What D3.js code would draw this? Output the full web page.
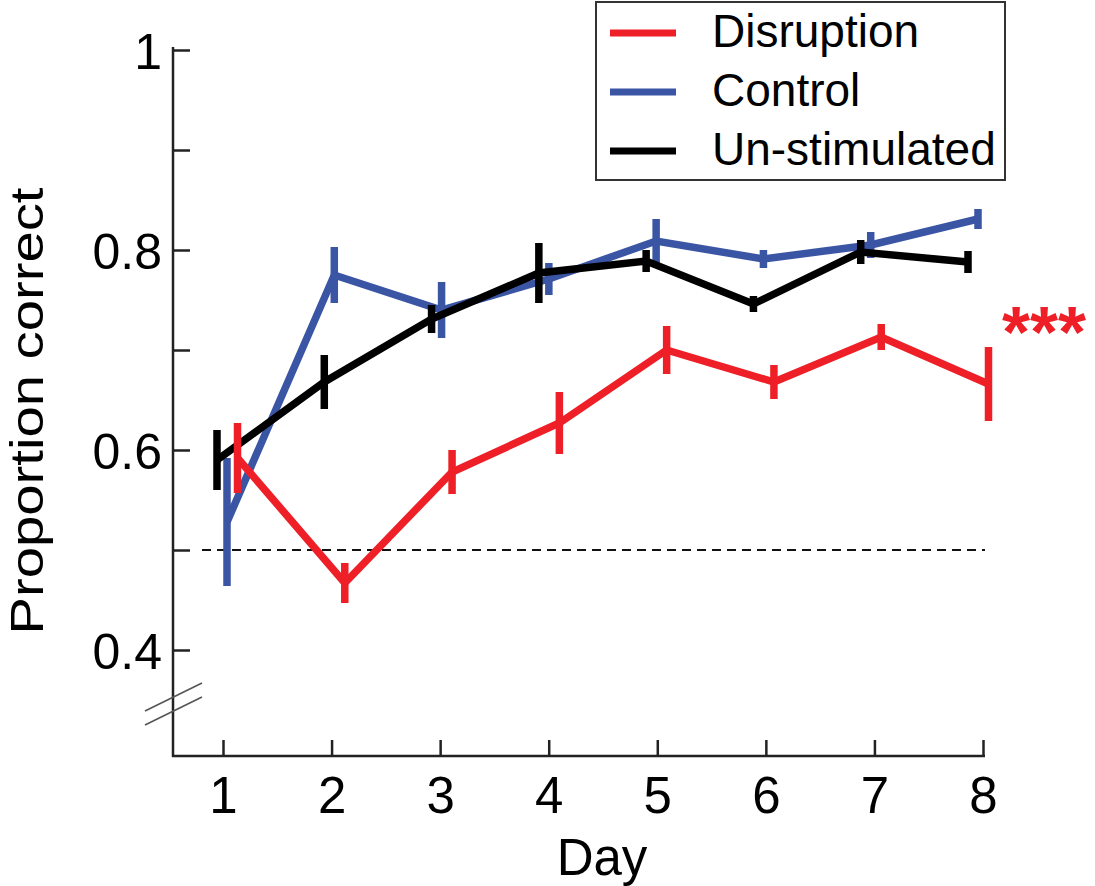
<!DOCTYPE html>
<html>
<head>
<meta charset="utf-8">
<script src="https://cdn.jsdelivr.net/npm/d3@7"></script>
<style>
  html, body { margin: 0; padding: 0; background: #fff; }
  svg { display: block; }
  text { font-family: "Liberation Sans", Arial, Helvetica, sans-serif; }
</style>
</head>
<body>
<svg id="chart" width="1095" height="886"></svg>
<script>
// Learning curves: proportion of correct trials per training day
const days = [1, 2, 3, 4, 5, 6, 7, 8];

const disruption    = [0.592, 0.467, 0.578, 0.627, 0.700, 0.668, 0.713, 0.666];
const disruptionErr = [0.035, 0.020, 0.022, 0.031, 0.024, 0.017, 0.013, 0.037];

const control    = [0.528, 0.775, 0.740, 0.771, 0.809, 0.791, 0.805, 0.831];
const controlErr = [0.064, 0.028, 0.028, 0.016, 0.022, 0.009, 0.013, 0.010];

const unstimulated    = [0.590, 0.668, 0.731, 0.777, 0.789, 0.746, 0.798, 0.788];
const unstimulatedErr = [0.030, 0.027, 0.014, 0.030, 0.011, 0.008, 0.012, 0.011];

const yTickValues = [0.4, 0.5, 0.6, 0.7, 0.8, 0.9, 1];
const yTickLabels = ["0.4", "", "0.6", "", "0.8", "", "1"];
const chanceLevel = 0.5;
const seriesNames = ["Disruption", "Control", "Un-stimulated"];
const significance = "***";

const colors = { red: "#ee1f26", blue: "#3b55a5", black: "#000000" };

const svg = d3.select("#chart");

// Scales
const axisLeftX = 173, axisBottomY = 756;
const x = d3.scaleLinear().domain([1, 8]).range([223, 983]);        // axis ticks
const xPlot = d3.scaleLinear().domain([1, 8]).range([227, 978]);    // plotted groups
const y = d3.scaleLinear().domain([0.4, 1]).range([650, 50]);

// Y axis (ticks point inward)
const yAxis = d3.axisLeft(y)
  .tickValues(yTickValues)
  .tickFormat((d, i) => yTickLabels[i])
  .tickSizeInner(-17)
  .tickSizeOuter(0)
  .tickPadding(11);

const gy = svg.append("g").attr("transform", `translate(${axisLeftX},0)`).call(yAxis);
gy.select(".domain").remove();
gy.selectAll(".tick line").attr("stroke", "#222").attr("stroke-width", 2.5);
gy.selectAll(".tick text").attr("font-size", 50).attr("fill", "#000")
  .attr("font-family", "'Liberation Sans', Arial, sans-serif").attr("dy", "0.36em");

svg.append("line")
  .attr("x1", axisLeftX).attr("x2", axisLeftX)
  .attr("y1", y(1) - 3).attr("y2", axisBottomY + 1)
  .attr("stroke", "#222").attr("stroke-width", 2.5);

// X axis
const xAxis = d3.axisBottom(x)
  .tickValues(days)
  .tickFormat(d3.format("d"))
  .tickSizeInner(-16)
  .tickSizeOuter(0)
  .tickPadding(21);

const gx = svg.append("g").attr("transform", `translate(0,${axisBottomY})`).call(xAxis);
gx.select(".domain").remove();
gx.selectAll(".tick line").attr("stroke", "#222").attr("stroke-width", 2.5);
gx.selectAll(".tick text").attr("font-size", 51).attr("fill", "#000")
  .attr("font-family", "'Liberation Sans', Arial, sans-serif");

svg.append("line")
  .attr("x1", axisLeftX - 1).attr("x2", x(8) + 2)
  .attr("y1", axisBottomY).attr("y2", axisBottomY)
  .attr("stroke", "#222").attr("stroke-width", 2.5);

// Axis break marks on the y axis
[0, 14].forEach(off => {
  svg.append("line")
    .attr("x1", 145).attr("y1", 711 + off)
    .attr("x2", 202).attr("y2", 683 + off)
    .attr("stroke", "#555").attr("stroke-width", 1.6);
});

// Axis titles
svg.append("text")
  .attr("x", 602).attr("y", 875)
  .attr("text-anchor", "middle")
  .attr("font-size", 51)
  .text("Day");

svg.append("text")
  .attr("transform", `translate(43,411) rotate(-90)`)
  .attr("text-anchor", "middle")
  .attr("font-size", 46)
  .attr("textLength", 447)
  .attr("lengthAdjust", "spacingAndGlyphs")
  .text("Proportion correct");

// Chance level
svg.append("line")
  .attr("x1", 202).attr("x2", x(8) + 2)
  .attr("y1", y(chanceLevel)).attr("y2", y(chanceLevel))
  .attr("stroke", "#111").attr("stroke-width", 2)
  .attr("stroke-dasharray", "9,6");

// Series (drawn back to front)
const series = [
  { name: seriesNames[1], values: control, err: controlErr, color: colors.blue, shift: 0 },
  { name: seriesNames[2], values: unstimulated, err: unstimulatedErr, color: colors.black, shift: -10 },
  { name: seriesNames[0], values: disruption, err: disruptionErr, color: colors.red, shift: 10.5 }
];

const line = d3.line()
  .x(d => d.x)
  .y(d => y(d.v));

series.forEach(s => {
  const pts = days.map((d, i) => ({ x: xPlot(d) + s.shift, v: s.values[i], e: s.err[i] }));
  const g = svg.append("g");
  g.append("path")
    .datum(pts)
    .attr("d", line)
    .attr("fill", "none")
    .attr("stroke", s.color)
    .attr("stroke-width", 7.5)
    .attr("stroke-linejoin", "miter");
  g.selectAll("line.err")
    .data(pts)
    .join("line")
    .attr("class", "err")
    .attr("x1", d => d.x).attr("x2", d => d.x)
    .attr("y1", d => y(d.v - d.e)).attr("y2", d => y(d.v + d.e))
    .attr("stroke", s.color)
    .attr("stroke-width", 7.5);
});

// Significance marker
svg.append("text")
  .attr("x", 1002).attr("y", 357)
  .attr("font-size", 72)
  .attr("font-weight", "bold")
  .attr("fill", colors.red)
  .text(significance);

// Legend
const legend = svg.append("g");
legend.append("rect")
  .attr("x", 596).attr("y", 2)
  .attr("width", 409).attr("height", 178)
  .attr("fill", "#fff")
  .attr("stroke", "#333").attr("stroke-width", 2);

const legendItems = [
  { name: seriesNames[0], color: colors.red },
  { name: seriesNames[1], color: colors.blue },
  { name: seriesNames[2], color: colors.black }
];
legendItems.forEach((item, i) => {
  const cy = 33 + i * 59;
  legend.append("line")
    .attr("x1", 610).attr("x2", 676)
    .attr("y1", cy).attr("y2", cy)
    .attr("stroke", item.color).attr("stroke-width", 7);
  legend.append("text")
    .attr("x", 712).attr("y", cy + 14)
    .attr("font-size", 46)
    .attr("fill", "#000")
    .text(item.name);
});
</script>
</body>
</html>
